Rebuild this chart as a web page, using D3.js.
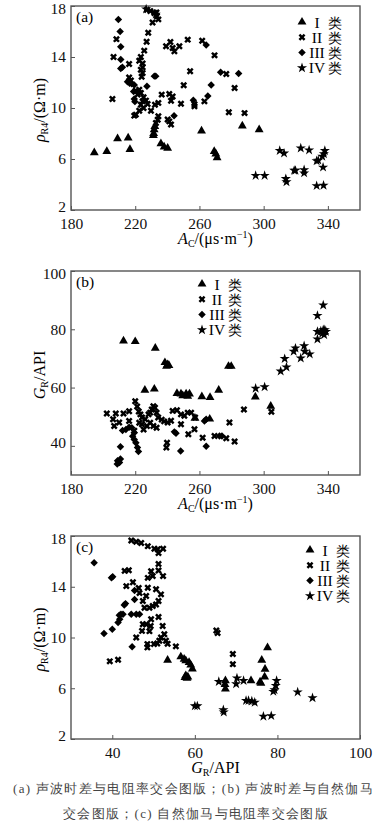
<!DOCTYPE html>
<html>
<head>
<meta charset="utf-8">
<script src="https://cdn.jsdelivr.net/npm/d3@7"></script>
<style>
  body { margin: 0; background: #fff; }
  svg { display: block; }
  text { font-family: "Liberation Serif", "Times New Roman", serif; }
</style>
</head>
<body>
<script>
// ---- data ----
// (a) AC vs RR4
var a_I = [[194.5,6.5],[202.3,6.6],[209,7.6],[215.6,7.65],[216.7,6.75],[231.3,7.85],[231.5,8.0],[231.8,8.3],[232.2,8.55],
  [236,7.2],[238,6.95],[240.2,6.85],[261.3,8.2],[269.2,6.6],[270.2,6.4],[271,6.1],[286.7,8.6],[297.2,8.3]];
var a_II = [[227.3,17.7],[229.4,17.6],[231.9,17.45],[233.5,17.2],[234.4,16.95],[230.8,16.7],[233.2,17.5],
  [208.3,15.4],[206.5,14.0],[205.8,10.7],[216.2,13.45],[228.1,15.9],[227.1,15.2],[225.6,14.5],[223.5,14.0],[222.5,13.7],
  [224.6,13.5],[224.6,13.2],[223.5,13.0],[224.6,12.75],[224,12.45],[216.2,12.4],[217.3,12.15],
  [220.4,11.36],[222.5,11.44],[221.5,11.05],[223.5,11.18],[225.2,10.84],[224.6,10.52],[226.7,10.58],[227.7,10.31],
  [223.5,10.26],[225.2,10.0],[222.5,9.79],[220.4,9.48],[219.4,9.4],[229.8,9.79],[232.3,10.26],[234.4,9.35],[234,9.08],
  [232.9,8.82],[236.5,11.05],[234.4,10.4],
  [241.2,11.1],[243.3,10.9],[242.3,10.57],[240.2,9.1],[241.2,8.95],[242.3,8.7],[248.5,10.34],[250.2,11.78],[254.2,12.88],
  [239.2,14.84],[241.9,15.18],[243.3,14.7],[244.4,14.44],[247.5,14.84],[252.7,15.36],[256.9,10.3],[256.9,10.13],
  [261.7,15.28],[269.4,14.13],[263.1,10.52],[276.7,12.67],[281.9,11.57],[278.3,9.66],[288.1,9.6]];
var a_III = [[209.5,16.95],[210.6,16.0],[211,14.8],[211,13.8],[211,13.1],[212,13.2],[215.2,12.05],[216.5,11.95],[217.8,11.9],
  [219.4,11.8],[219,11.3],[219.4,10.7],[219.8,10.5],[227.3,11.7],[231.9,12.5],[232.8,12.5],[244.2,9.4],[256.2,10.6],
  [265.2,10.95],[267.3,11.8],[264.2,14.95],[273.2,12.8],[284.4,12.7]];
var a_IV = [[226.8,17.75],[232.8,17.35],[295,4.7],[300.6,4.7],[310,6.65],[312.7,6.45],[313.8,4.45],[314.2,4.2],[319,5.1],[319.8,5.1],
  [323.1,6.85],[325.2,5.15],[325.2,4.9],[328.3,6.7],[333,5.85],[334,5.9],[336.5,6.2],[337.5,6.4],[338.1,6.65],[337,5.35],
  [333,3.9],[337.3,3.93]];

// (b) AC vs GR
var b_I = [[212.7,76.0],[220,75.8],[232.5,73.5],[238.5,68.6],[239.5,67.3],[240.2,67.9],[241,67.6],[226,59.1],[231.9,59.5],
  [246,58],[248.5,57.8],[249.6,57.2],[251.7,57.8],[253.8,57.8],[252.7,57.0],[261.5,56.9],[266.6,56.6],[272,59.1],
  [257.2,49.5],[266.4,49.2],[278.1,67.3],[279.8,67.3],[294.8,56.8],[304.4,53.6]];
var b_II = [[202.3,51.1],[207.9,51.1],[212.7,51.1],[216.2,51.9],[220,55.3],[206.2,49.1],[206.9,46.8],[210,48],[216.2,48.5],
  [219.4,45.2],[221.2,53.5],[222.2,51.8],[223.2,50.8],[224.2,49.7],[226.2,49.1],[228.3,50.8],[229.3,51.4],[230.3,52.5],
  [231.3,53.6],[232.3,53.1],[233.3,51.4],[234.3,49.7],[229.3,47.9],[227.3,46.8],[225.2,45.6],[224.2,47.4],[231.3,46.8],
  [233.3,46.2],[222.5,47.9],[236.5,49],[238,48.4],[240.2,48],[242.3,48.6],[243.3,52],[246,52.2],[248.5,50.8],[250.6,50.3],
  [252.7,51.4],[254.8,51.4],[257.3,49.7],[248.5,47.4],[253.1,44],[256.9,45.7],[239.8,41.1],[239.4,39.4],[262,42.8],
  [269.4,43.4],[276.7,42.6],[281.9,41.5],[278.7,48],[287.7,52.5],[304.8,51.7]];
var b_III = [[212.1,45.3],[214.2,45.6],[216.2,46.4],[217.9,46.2],[219.4,44.5],[218.4,43.3],[219.4,42.2],[220.4,41.1],
  [221.4,39.4],[222,38.1],[210.8,39.7],[209,34.9],[210.2,34.3],[210.8,35.5],[208.8,33.8],[244.4,44.8],[245.4,44.3],
  [248.3,38.2],[264.2,39.9],[263.1,48.5],[264.2,49.1],[272.5,43.4],[274,43.4]];
var b_IV = [[337.1,88.3],[333.5,84.7],[333.5,79.2],[335.6,79.4],[337.1,79.8],[338.1,79.8],[338.8,79.2],[336.5,78.6],
  [337.7,78.1],[333.5,76.6],[325.2,74.3],[325.6,72.4],[328.7,71.5],[323.1,70.1],[319.8,73.5],[318.7,72.4],[313.1,69.9],
  [314.2,67.0],[310.6,65.6],[295,59.7],[300.6,60.2]];

// (c) GR vs RR4
var c_I = [[53.4,8.22],[56.6,8.48],[57.4,8.3],[57.8,8.17],[58.6,8.04],[59,7.83],[59.4,7.52],[57.8,7.0],[58.1,6.8],[58.3,6.9],
  [57.6,6.85],[77.6,9.2],[76.2,8.22],[77,7.5],[76.9,6.9],[75.8,6.5],[76,6.4],[73.6,6.6],[67.4,6.6],[67.3,6.3],[67.4,5.95]];
var c_II = [[44.6,17.65],[45.8,17.55],[47,17.45],[48.6,17.2],[50.2,17.0],[51.2,16.65],[52.3,17.0],[51.0,16.95],
  [43,15.25],[44,15.3],[45,14.35],[43.4,14.05],[46.4,13.9],[46.6,13.5],[48.2,13.27],[48.6,13.92],[47.4,12.88],[47.8,12.35],
  [49,12.35],[49.8,12.48],[50.6,12.6],[51.2,12.88],[51.8,13.4],[50.6,13.8],[49.8,14.84],[49.4,15.23],[51.2,15.28],
  [51.2,15.8],[52.3,14.84],[48.6,14.7],[48.2,11.05],[47.4,11.05],[49.3,10.9],[49.4,11.44],[51.2,11.62],[52.2,10.9],
  [52.6,10.26],[51.8,10.0],[53,9.74],[51.4,9.74],[50.9,9.53],[50.1,9.48],[48.5,9.22],[48.5,9.48],[47.2,10.52],[45.8,10.0],
  [49,10.5],[53.4,9.5],[39.4,8.12],[41.4,8.25],[55.4,9.3],[65.2,10.55],[65.5,10.35],[69.2,8.7],[69.2,7.9]];
var c_III = [[35.6,15.9],[39.8,14.7],[40.1,14.78],[42.9,12.56],[43.2,12.67],[41.7,11.75],[42.1,11.83],[42.6,11.83],
  [41.8,11.44],[41.4,11.18],[45.4,13.0],[45.4,13.7],[44.6,11.83],[45.8,11.83],[46.6,11.83],[38,10.31],[40,10.65],[44.8,9.27]];
var c_IV = [[60,4.6],[60.6,4.6],[65.8,6.52],[70,6.34],[70.2,6.8],[71.8,6.6],[72.4,5.03],[73,5.03],[73.8,4.98],[74.5,4.88],
  [66.9,4.3],[67,4.12],[76.6,3.78],[78.5,3.83],[79.8,6.6],[79.6,6.2],[79.3,5.87],[79,5.74],[84.9,5.7],[88.5,5.24]];

var classNames = ['I', 'II', 'III', 'IV'];
var acTicks = [180, 220, 260, 300, 340];
var grTicks = [40, 60, 80, 100];
var rTicks = [2, 6, 10, 14, 18];

// ---- drawing ----
var svg = d3.select('body').append('svg').attr('width', 387).attr('height', 823);

var symbols = [
  { type: d3.symbolTriangle, size: 34, rot: 0 },
  { type: d3.symbolCross, size: 30, rot: 45 },
  { type: d3.symbolSquare, size: 28, rot: 45 },
  { type: d3.symbolStar, size: 32, rot: 0 }
];

var panels = [
  { label: '(a)', top: 6, bottom: 210, xDomain: [180, 360], xTicks: acTicks, yDomain: [2, 18], yTicks: rTicks,
    series: [a_I, a_II, a_III, a_IV], xTitle: 'ac', yTitle: 'rho', legendX: 302, legendY: 22 },
  { label: '(b)', top: 271, bottom: 475, xDomain: [180, 360], xTicks: acTicks, yDomain: [30, 100], yTicks: grTicks,
    series: [b_I, b_II, b_III, b_IV], xTitle: 'ac', yTitle: 'gr', legendX: 202, legendY: 284 },
  { label: '(c)', top: 536, bottom: 739, xDomain: [30, 100], xTicks: grTicks, yDomain: [2, 18], yTicks: rTicks,
    series: [c_I, c_II, c_III, c_IV], xTitle: 'gr', yTitle: 'rho', legendX: 310, legendY: 550 }
];

function addTitle(sel, kind) {
  // italic letter + subscript, then unit
  if (kind === 'ac') {
    sel.append('tspan').attr('font-style', 'italic').text('A');
    sel.append('tspan').attr('font-size', 10).attr('dy', 3).text('C');
    sel.append('tspan').attr('dy', -3).text('/(μs·m');
    sel.append('tspan').attr('font-size', 10).attr('dy', -6).text('−1');
    sel.append('tspan').attr('dy', 6).text(')');
  } else if (kind === 'gr') {
    sel.append('tspan').attr('font-style', 'italic').text('G');
    sel.append('tspan').attr('font-size', 10).attr('dy', 3).text('R');
    sel.append('tspan').attr('dy', -3).text('/API');
  } else {
    sel.append('tspan').attr('font-style', 'italic').text('ρ');
    sel.append('tspan').attr('font-size', 10).attr('dy', 3).text('R4');
    sel.append('tspan').attr('dy', -3).text('/(Ω·m)');
  }
}

panels.forEach(function(p) {
  var x = d3.scaleLinear().domain(p.xDomain).range([71, 360]);
  var y = d3.scaleLinear().domain(p.yDomain).range([p.bottom, p.top]);
  var g = svg.append('g');

  // inward ticks on bottom and left
  var xAxis = g.append('g').attr('transform', 'translate(0,' + p.bottom + ')')
    .call(d3.axisBottom(x).tickValues(p.xTicks).tickSize(-4).tickPadding(5).tickSizeOuter(0));
  var yAxis = g.append('g').attr('transform', 'translate(71,0)')
    .call(d3.axisLeft(y).tickValues(p.yTicks).tickSize(-4).tickPadding(5).tickSizeOuter(0));
  [xAxis, yAxis].forEach(function(ax) {
    ax.select('.domain').remove();
    ax.selectAll('line').attr('stroke', '#555');
    ax.selectAll('text').attr('font-family', '"Liberation Serif", serif').attr('font-size', 15.5).attr('fill', '#111');
  });
  xAxis.selectAll('text').attr('dy', '0.9em');
  // lowest and highest y labels sit a little inside, as in the figure
  yAxis.selectAll('.tick text').attr('dy', function(d, i, n) {
    if (i === 0) return '0.1em';
    if (i === n.length - 1) return '0.5em';
    return '0.32em';
  });

  g.append('rect').attr('x', 71).attr('y', p.top).attr('width', 289).attr('height', p.bottom - p.top)
    .attr('fill', 'none').attr('stroke', '#555').attr('stroke-width', 1.4);

  g.append('text').attr('x', 76).attr('y', p.top + 16).attr('font-size', 15.5).text(p.label);

  p.series.forEach(function(data, i) {
    var s = symbols[i];
    g.selectAll(null).data(data).enter().append('path')
      .attr('d', d3.symbol().type(s.type).size(s.size))
      .attr('transform', function(d) {
        return 'translate(' + x(d[0]) + ',' + y(d[1]) + ') rotate(' + s.rot + ')';
      })
      .attr('fill', '#000');
  });

  // legend
  var lg = g.append('g');
  classNames.forEach(function(name, i) {
    var s = symbols[i];
    var ly = p.legendY + i * 15.3;
    lg.append('path').attr('d', d3.symbol().type(s.type).size(s.size))
      .attr('transform', 'translate(' + p.legendX + ',' + ly + ') rotate(' + s.rot + ')');
    lg.append('text').attr('x', p.legendX + 15).attr('y', ly + 5.5).attr('text-anchor', 'middle')
      .attr('font-size', 15.5).text(name);
    lg.append('text').attr('x', p.legendX + 25.5).attr('y', ly + 5.5)
      .attr('font-family', '"Noto Sans CJK SC", sans-serif').attr('font-size', 14).text('类');
  });

  var xt = g.append('text').attr('x', 215.5).attr('y', p.bottom + 34).attr('text-anchor', 'middle').attr('font-size', 16);
  addTitle(xt, p.xTitle);
  var yt = g.append('text').attr('transform', 'translate(45,' + ((p.top + p.bottom) / 2 + 2) + ') rotate(-90)')
    .attr('text-anchor', 'middle').attr('font-size', 16);
  addTitle(yt, p.yTitle);
});

var cap = svg.append('g').attr('font-family', '"Noto Sans CJK SC", sans-serif').attr('font-size', 13).attr('fill', '#444');
cap.append('text').attr('x', 13).attr('y', 793).attr('letter-spacing', 1.3)
  .text('(a) 声波时差与电阻率交会图版；(b) 声波时差与自然伽马');
cap.append('text').attr('x', 196).attr('y', 818).attr('text-anchor', 'middle').attr('letter-spacing', 1.3)
  .text('交会图版；(c) 自然伽马与电阻率交会图版');
</script>
</body>
</html>
